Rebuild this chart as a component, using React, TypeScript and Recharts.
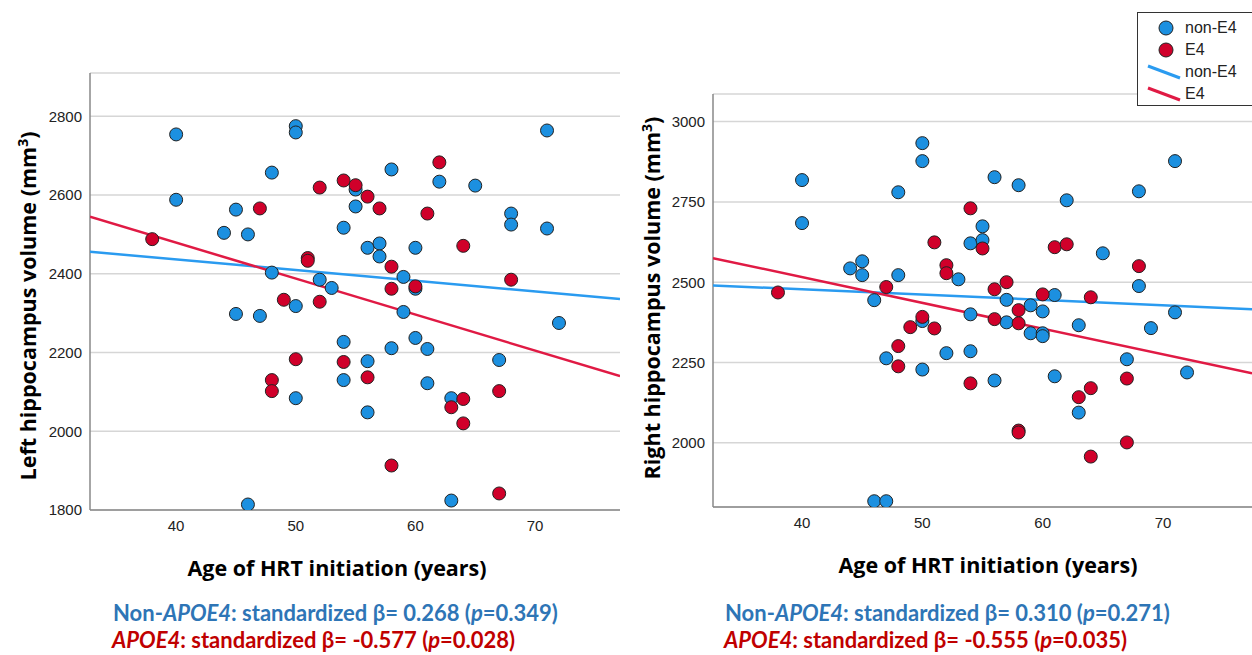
import React from 'react';
import { ScatterChart, Scatter, XAxis, YAxis, CartesianGrid } from 'recharts';

type P = [number, number];

const ageTicks = [40, 50, 60, 70];
const leftVolTicks = [1800, 2000, 2200, 2400, 2600, 2800];
const rightVolTicks = [2000, 2250, 2500, 2750, 3000];

const leftNonE4: P[] = [
  [40, 2754], [40, 2588], [44, 2504], [45, 2563], [45, 2298], [46, 2500], [46, 1814],
  [47, 2293], [48, 2657], [48, 2403], [50, 2775], [50, 2759], [50, 2318], [50, 2084],
  [52, 2385], [53, 2364], [54, 2517], [54, 2227], [54, 2130], [55, 2571], [55, 2614],
  [56, 2466], [56, 2178], [56, 2048], [57, 2477], [57, 2444], [58, 2665], [58, 2211],
  [59, 2392], [59, 2303], [60, 2466], [60, 2362], [60, 2237], [61, 2209], [61, 2122],
  [62, 2634], [63, 2084], [63, 1824], [65, 2624], [67, 2181], [68, 2553], [68, 2525],
  [71, 2764], [71, 2515], [72, 2275],
];
const leftE4: P[] = [
  [38, 2488], [47, 2566], [48, 2130], [48, 2102], [49, 2334], [50, 2183], [51, 2440],
  [51, 2433], [52, 2619], [52, 2329], [54, 2637], [54, 2176], [55, 2625], [56, 2596],
  [56, 2137], [57, 2566], [58, 2418], [58, 2362], [58, 1913], [60, 2368], [61, 2553],
  [62, 2683], [63, 2061], [64, 2471], [64, 2082], [64, 2020], [67, 2102], [67, 1842],
  [68, 2385],
];
const rightNonE4: P[] = [
  [40, 2818], [40, 2684], [44, 2543], [45, 2565], [45, 2522], [46, 2444], [46, 1818],
  [47, 2263], [47, 1818], [48, 2780], [48, 2522], [50, 2933], [50, 2877], [50, 2379],
  [50, 2228], [52, 2279], [53, 2509], [54, 2621], [54, 2400], [54, 2285], [55, 2674],
  [55, 2631], [56, 2827], [56, 2194], [57, 2445], [57, 2375], [58, 2802], [59, 2428],
  [59, 2341], [60, 2409], [60, 2341], [60, 2332], [61, 2460], [61, 2207], [62, 2755],
  [63, 2366], [63, 2094], [65, 2590], [67, 2260], [68, 2783], [68, 2488], [69, 2357],
  [71, 2877], [71, 2406], [72, 2219],
];
const rightE4: P[] = [
  [38, 2468], [47, 2485], [48, 2301], [48, 2238], [49, 2360], [50, 2392], [51, 2624],
  [51, 2356], [52, 2553], [52, 2528], [54, 2730], [54, 2185], [55, 2605], [56, 2478],
  [56, 2385], [57, 2500], [58, 2413], [58, 2372], [58, 2038], [58, 2032], [60, 2462],
  [61, 2609], [62, 2618], [63, 2142], [64, 2453], [64, 2170], [64, 1957], [67, 2200],
  [67, 2001], [68, 2550],
];

const leftFitNonE4: P[] = [[32.8, 2456], [77.1, 2336]];
const leftFitE4: P[] = [[32.8, 2545], [77.1, 2140]];
const rightFitNonE4: P[] = [[32.6, 2490], [77.4, 2416]];
const rightFitE4: P[] = [[32.6, 2575], [77.4, 2216]];

const BLUE_DOT = '#1c90e0';
const RED_DOT = '#d0002a';
const BLUE_LINE = '#2a9bf0';
const RED_LINE = '#e01a44';

const legendItems = [
  { kind: 'dot', label: 'non-E4', color: BLUE_DOT },
  { kind: 'dot', label: 'E4', color: RED_DOT },
  { kind: 'line', label: 'non-E4', color: BLUE_LINE },
  { kind: 'line', label: 'E4', color: RED_LINE },
];

const toPts = (a: P[]) => a.map(([x, y]) => ({ x, y }));

const dot = (color: string) => (props: any) => (
  <circle cx={props.cx} cy={props.cy} r={6.5} fill={color} stroke="#222" strokeWidth={1} />
);
const noShape = () => <g />;

const tickStyle = { fontFamily: 'Liberation Sans, Arial, sans-serif', fontSize: 15, fill: '#222' };

const LegendBox = () => (
  <div
    style={{
      position: 'absolute',
      left: 1137,
      top: 12,
      border: '1px solid #333',
      width: 130,
      height: 94,
      background: '#fff',
      boxSizing: 'border-box',
      fontFamily: 'Liberation Sans, Arial, sans-serif',
      fontSize: 16,
      color: '#222',
      paddingTop: 4,
    }}
  >
    {legendItems.map((it, i) => (
      <div key={i} style={{ height: 22, display: 'flex', alignItems: 'center' }}>
        <svg width={46} height={22}>
          {it.kind === 'dot' ? (
            <circle cx={28} cy={11} r={7} fill={it.color} stroke="#222" strokeWidth={1} />
          ) : (
            <line x1={10} y1={5} x2={42} y2={17} stroke={it.color} strokeWidth={3} />
          )}
        </svg>
        <span style={{ marginLeft: 1 }}>{it.label}</span>
      </div>
    ))}
  </div>
);

const textBase: React.CSSProperties = {
  position: 'absolute',
  whiteSpace: 'nowrap',
  lineHeight: 1,
};

const titleStyle: React.CSSProperties = {
  ...textBase,
  fontFamily: 'Open Sans, sans-serif',
  fontWeight: 700,
  fontSize: 21.5,
  color: '#000',
};

const stats = [
  { left: 113, top: 613, color: '#2E75B6', pre: 'Non-', it: 'APOE4', rest: ': standardized β= 0.268 (', p: '=0.349)' },
  { left: 112, top: 640, color: '#C00000', pre: '', it: 'APOE4', rest: ': standardized β= -0.577 (', p: '=0.028)' },
  { left: 725, top: 613, color: '#2E75B6', pre: 'Non-', it: 'APOE4', rest: ': standardized β= 0.310 (', p: '=0.271)' },
  { left: 724, top: 640, color: '#C00000', pre: '', it: 'APOE4', rest: ': standardized β= -0.555 (', p: '=0.035)' },
];

export default function App() {
  return (
    <div
      style={{
        position: 'absolute',
        left: 0,
        top: 0,
        width: 1252,
        height: 655,
        overflow: 'hidden',
        background: '#fff',
      }}
    >
      <div style={{ position: 'absolute', left: 0, top: 0 }}>
        <ScatterChart width={640} height={655} margin={{ top: 73, right: 20, bottom: 115, left: 30 }}>
          <CartesianGrid vertical={false} stroke="#d6d6d6" strokeWidth={1.5} />
          <XAxis
            type="number"
            dataKey="x"
            domain={[32.8, 77.1]}
            ticks={ageTicks}
            interval={0}
            allowDataOverflow
            height={30}
            tickLine={false}
            tickMargin={4}
            axisLine={{ stroke: '#888', strokeWidth: 1.5 }}
            tick={tickStyle}
          />
          <YAxis
            type="number"
            dataKey="y"
            domain={[1800, 2910]}
            ticks={leftVolTicks}
            interval={0}
            allowDataOverflow
            width={60}
            tickLine={false}
            axisLine={{ stroke: '#888', strokeWidth: 1.5 }}
            tick={tickStyle}
          />
          <Scatter data={toPts(leftFitNonE4)} line={{ stroke: BLUE_LINE, strokeWidth: 2.5 }} shape={noShape} isAnimationActive={false} legendType="none" />
          <Scatter data={toPts(leftFitE4)} line={{ stroke: RED_LINE, strokeWidth: 2.5 }} shape={noShape} isAnimationActive={false} legendType="none" />
          <Scatter data={toPts(leftNonE4)} shape={dot(BLUE_DOT)} isAnimationActive={false} />
          <Scatter data={toPts(leftE4)} shape={dot(RED_DOT)} isAnimationActive={false} />
        </ScatterChart>
      </div>

      <div style={{ position: 'absolute', left: 630, top: 0 }}>
        <ScatterChart width={622} height={655} margin={{ top: 94, right: 0, bottom: 118, left: 23 }}>
          <CartesianGrid vertical={false} stroke="#d6d6d6" strokeWidth={1.5} />
          <XAxis
            type="number"
            dataKey="x"
            domain={[32.6, 77.4]}
            ticks={ageTicks}
            interval={0}
            allowDataOverflow
            height={30}
            tickLine={false}
            tickMargin={4}
            axisLine={{ stroke: '#888', strokeWidth: 1.5 }}
            tick={tickStyle}
          />
          <YAxis
            type="number"
            dataKey="y"
            domain={[1800, 3086]}
            ticks={rightVolTicks}
            interval={0}
            allowDataOverflow
            width={60}
            tickLine={false}
            axisLine={{ stroke: '#888', strokeWidth: 1.5 }}
            tick={tickStyle}
          />
          <Scatter data={toPts(rightFitNonE4)} line={{ stroke: BLUE_LINE, strokeWidth: 2.5 }} shape={noShape} isAnimationActive={false} legendType="none" />
          <Scatter data={toPts(rightFitE4)} line={{ stroke: RED_LINE, strokeWidth: 2.5 }} shape={noShape} isAnimationActive={false} legendType="none" />
          <Scatter data={toPts(rightNonE4)} shape={dot(BLUE_DOT)} isAnimationActive={false} />
          <Scatter data={toPts(rightE4)} shape={dot(RED_DOT)} isAnimationActive={false} />
        </ScatterChart>
      </div>

      <LegendBox />

      <div style={{ ...titleStyle, left: 27, top: 306, transform: 'translate(-50%, -50%) rotate(-90deg)' }}>
        Left hippocampus volume (mm<sup style={{ fontSize: 14 }}>3</sup>)
      </div>
      <div style={{ ...titleStyle, left: 651, top: 298, transform: 'translate(-50%, -50%) rotate(-90deg)' }}>
        Right hippocampus volume (mm<sup style={{ fontSize: 14 }}>3</sup>)
      </div>
      <div style={{ ...titleStyle, left: 337, top: 568, transform: 'translate(-50%, -50%)' }}>
        Age of HRT initiation (years)
      </div>
      <div style={{ ...titleStyle, left: 988, top: 565, transform: 'translate(-50%, -50%)' }}>
        Age of HRT initiation (years)
      </div>

      {stats.map((s, i) => (
        <div
          key={i}
          style={{
            ...textBase,
            left: s.left,
            top: s.top,
            transform: 'translateY(-50%)',
            fontFamily: 'Lato, sans-serif',
            fontWeight: 700,
            fontSize: 22,
            color: s.color,
          }}
        >
          {s.pre}
          <i>{s.it}</i>
          {s.rest}
          <i>p</i>
          {s.p}
        </div>
      ))}
    </div>
  );
}
